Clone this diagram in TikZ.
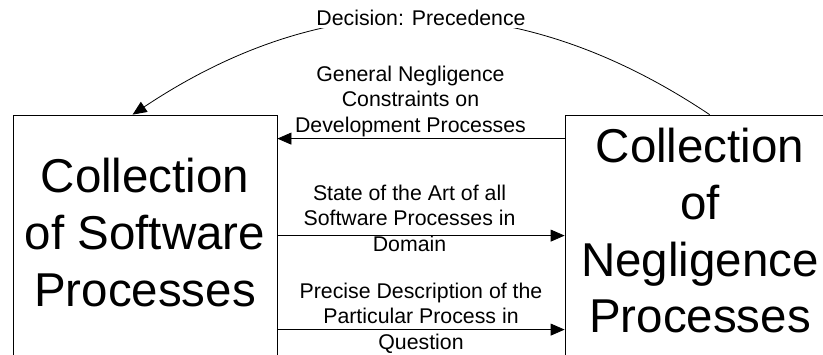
\documentclass[tikz,border=0pt]{standalone}
\usepackage{fontspec}
\setmainfont{Liberation Sans}
\usetikzlibrary{arrows.meta}
\begin{document}
\begin{tikzpicture}[x=1pt,y=-1pt,
  procbox/.style={draw=black,line width=0.8pt,minimum height=260pt,inner sep=0pt},
  bigtext/.style={align=center,inner sep=0pt,font=\fontsize{47.5}{56.7}\selectfont},
  lbl/.style={align=center,inner sep=0pt,font=\fontsize{21.3}{25.5}\selectfont},
  conn/.style={line width=0.8pt,-{Triangle[length=14pt,width=12pt]}}]
\useasboundingbox (0,0) rectangle (823,354);
% boxes
\node[procbox,minimum width=264pt] (sw) at (145,245) {};
\node[procbox,minimum width=270pt] (np) at (700,245) {};
\node[bigtext] (swt) at (145,232.6) {Collection\\of Software\\Processes};
\node[bigtext] (npt) at (700,230.7) {Collection\\of\\Negligence\\Processes};
% curved decision arrow
\draw[conn] ([xshift=145pt]np.north west) .. controls (517.7,-13.9) and (325.3,-13.9) .. ([xshift=120pt]sw.north west);
\node[lbl,fill=white,inner xsep=4.5pt,inner ysep=2pt] (dec) at (421,18.3) {Decision: Precedence};
% straight arrows
\draw[conn] ([yshift=-24pt]np.north west) -- ([yshift=-24pt]sw.north east);
\draw[conn] ([yshift=-121pt]sw.north east) -- ([yshift=-121pt]np.north west);
\draw[conn] ([yshift=-215pt]sw.north east) -- ([yshift=-215pt]np.north west);
% labels
\node[lbl] (gen) at (410.5,101.2) {General Negligence\\Constraints on\\Development Processes};
\node[lbl] (sta) at (409.5,218.3) {State of the Art of all\\Software Processes in\\Domain};
\node[lbl] (pre) at (421,318) {Precise Description of the\\Particular Process in\\Question};
\end{tikzpicture}
\end{document}
